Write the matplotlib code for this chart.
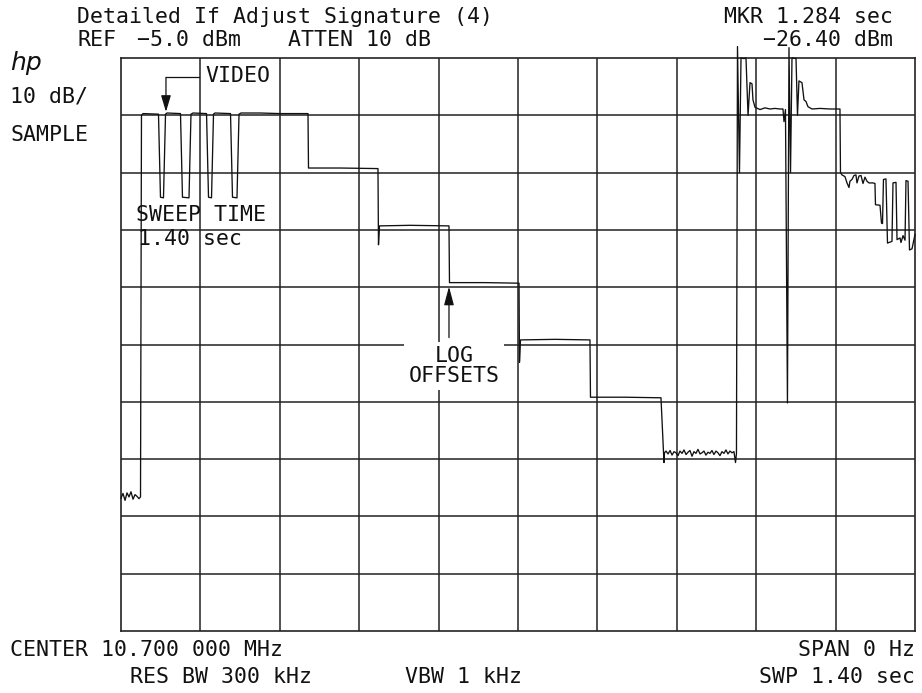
"""Spectrum analyzer plot: IF adjust signature, zero span, 1.40 s sweep."""

import matplotlib

matplotlib.use("Agg")
import matplotlib.pyplot as plt

W, H = 922, 693

SWEEP_S = 1.40
REF_DBM = -5.0
DB_PER_DIV = 10
N_DIV = 10

# trace (time in s, level in dBm)
trace_t = [
    0.0000, 0.0035, 0.0071, 0.0106, 0.0141, 0.0176, 0.0212, 0.0247, 0.0282, 0.0317,
    0.0344, 0.0361, 0.0388,
    0.0661, 0.0696, 0.0749, 0.0785, 0.0811,
    0.1049, 0.1084, 0.1199, 0.1234, 0.1270,
    0.1508, 0.1543, 0.1596, 0.1631, 0.1657,
    0.1931, 0.1966, 0.2045, 0.2081, 0.2116, 0.2451, 0.2804, 0.3297,
    0.3306, 0.3861, 0.4531,
    0.4540, 0.4558, 0.5096, 0.5783,
    0.5792, 0.6418, 0.7018,
    0.7026, 0.7044, 0.7652, 0.8269,
    0.8278, 0.8887, 0.9521,
    0.9574, 0.9583, 0.9610, 0.9646, 0.9681, 0.9716, 0.9751, 0.9786, 0.9821, 0.9856,
    0.9892, 0.9927, 0.9963, 0.9997, 1.0032, 1.0068, 1.0103, 1.0138, 1.0173, 1.0209,
    1.0244, 1.0279, 1.0314, 1.0350, 1.0385, 1.0420, 1.0455, 1.0491, 1.0526, 1.0561,
    1.0596, 1.0632, 1.0667, 1.0702, 1.0737, 1.0773, 1.0808, 1.0835, 1.0852,
    1.0870, 1.0905, 1.0932, 1.0985, 1.1020, 1.1056, 1.1091, 1.1126, 1.1143, 1.1179,
    1.1267, 1.1355, 1.1443, 1.1531, 1.1619, 1.1672, 1.1690, 1.1716,
    1.1751, 1.1778, 1.1805, 1.1831, 1.1902, 1.1928, 1.1954, 1.2007, 1.2043, 1.2078,
    1.2113, 1.2184, 1.2325, 1.2501, 1.2677,
    1.2686, 1.2712, 1.2765, 1.2801, 1.2836, 1.2853, 1.2889, 1.2924, 1.2959, 1.2977,
    1.3012, 1.3048, 1.3083, 1.3118, 1.3153, 1.3188, 1.3259, 1.3294,
    1.3303, 1.3383, 1.3409, 1.3427, 1.3444, 1.3488, 1.3515, 1.3594, 1.3612, 1.3665,
    1.3683, 1.3736, 1.3753, 1.3789, 1.3824, 1.3841, 1.3877, 1.3903, 1.3947, 1.4000,
]
trace_dbm = [
    -81.8, -81.0, -82.2, -80.9, -81.6, -80.7, -82.0, -81.2, -81.5, -81.9,
    -81.6, -15.0, -14.7,
    -14.8, -29.3, -29.4, -14.8, -14.6,
    -14.7, -29.3, -29.4, -14.8, -14.6,
    -14.7, -29.3, -29.4, -14.8, -14.6,
    -14.7, -29.3, -29.4, -14.8, -14.6, -14.6, -14.7, -14.7,
    -24.2, -24.2, -24.3,
    -37.6, -34.3, -34.2, -34.3,
    -44.2, -44.2, -44.3,
    -58.1, -54.2, -54.1, -54.2,
    -64.2, -64.2, -64.3,
    -75.6, -73.9, -73.6, -74.1, -73.5, -74.3, -73.7, -73.9, -74.4, -73.6,
    -74.0, -73.4, -74.2, -73.8, -73.5, -74.5, -73.7, -74.0, -73.3, -74.1,
    -73.9, -73.6, -74.3, -73.8, -74.0, -73.5, -74.2, -73.6, -73.9, -74.4,
    -73.7, -74.0, -73.4, -74.1, -73.6, -73.9, -73.7, -75.6, -74.0,
    -3.0, -25.0, -5.0, -5.1, -5.0, -15.0, -9.3, -9.5, -12.3, -13.6,
    -14.0, -13.7, -13.9, -13.8, -13.9, -13.9, -16.1, -14.0,
    -65.2, -3.2, -25.0, -5.0, -5.1, -15.0, -9.0, -9.3, -12.3, -12.6,
    -13.5, -13.9, -13.8, -13.9, -13.9,
    -25.0, -25.4, -25.7, -26.8, -27.6, -26.5, -26.2, -25.5, -25.4, -26.8,
    -25.6, -25.5, -26.9, -25.8, -26.5, -26.8, -26.8, -26.9,
    -30.6, -30.7, -33.8, -33.9, -26.2, -26.1, -37.3, -37.0, -26.8, -26.7,
    -36.7, -36.4, -37.2, -36.0, -36.8, -26.4, -26.5, -38.5, -38.3, -35.8,
]

# annotation anchors in data units (s, dBm)
video_arrow_t = [0.1375, 0.0793]
video_arrow_dbm = -8.4
video_tip_dbm = -14.4
log_arrow_t = 0.5783
log_arrow_from_dbm = -53.8
log_arrow_tip_dbm = -44.9

INK = "#111111"
GRID = "#222222"
FS = 15.5

plt.rcParams["font.family"] = ["DejaVu Sans Mono", "DejaVu Sans"]


def fxy(x, y):
    """Pixel position in the 922x693 frame -> figure fraction."""
    return x / W, 1 - y / H


fig = plt.figure(figsize=(W / 100, H / 100), dpi=100)
ax = fig.add_axes([121 / W, 1 - 631 / H, 794 / W, 573 / H])
ax.set_xlim(0, SWEEP_S)
ax.set_ylim(REF_DBM - N_DIV * DB_PER_DIV, REF_DBM)
ax.set_xticks([])
ax.set_yticks([])
for s in ax.spines.values():
    s.set_linewidth(1.2)
    s.set_color(GRID)

for i in range(1, N_DIV):
    ax.axvline(i * SWEEP_S / N_DIV, color=GRID, lw=1.1, zorder=1)
    ax.axhline(REF_DBM - i * DB_PER_DIV, color=GRID, lw=1.1, zorder=1)

ax.plot(trace_t, trace_dbm, color=INK, lw=0.95, clip_on=False, zorder=3)

# VIDEO marker arrow
ax.plot(video_arrow_t, [video_arrow_dbm] * 2, color=INK, lw=0.9, zorder=3)
ax.annotate(
    "",
    xy=(video_arrow_t[1], video_tip_dbm),
    xytext=(video_arrow_t[1], video_arrow_dbm),
    arrowprops=dict(arrowstyle="-|>,head_length=0.4,head_width=0.12",
                    mutation_scale=25, color=INK, lw=0.9, shrinkA=0, shrinkB=0),
    zorder=3,
)
# LOG OFFSETS arrow
ax.annotate(
    "",
    xy=(log_arrow_t, log_arrow_tip_dbm),
    xytext=(log_arrow_t, log_arrow_from_dbm),
    arrowprops=dict(arrowstyle="-|>,head_length=0.45,head_width=0.12",
                    mutation_scale=25, color=INK, lw=0.9, shrinkA=0, shrinkB=0),
    zorder=3,
)

txt = dict(color=INK, fontsize=FS)
fig.text(*fxy(77, 17), "Detailed If Adjust Signature (4)", ha="left", va="center", **txt)
fig.text(*fxy(77, 40), "REF", ha="left", va="center", **txt)
fig.text(*fxy(137, 40), "\u22125.0 dBm", ha="left", va="center", **txt)
fig.text(*fxy(288, 40), "ATTEN 10 dB", ha="left", va="center", **txt)
fig.text(*fxy(893, 17), "MKR 1.284 sec", ha="right", va="center", **txt)
fig.text(*fxy(893, 40), "\u221226.40 dBm", ha="right", va="center", **txt)

fig.text(*fxy(10, 63), "hp", ha="left", va="center", color=INK, fontsize=18,
         fontstyle="italic", family="DejaVu Sans")
fig.text(*fxy(10, 97), "10 dB/", ha="left", va="center", **txt)
fig.text(*fxy(10, 135), "SAMPLE", ha="left", va="center", **txt)

fig.text(*fxy(205, 76), "VIDEO", ha="left", va="center", **txt)
fig.text(*fxy(136, 215), "SWEEP TIME", ha="left", va="center", **txt)
fig.text(*fxy(138, 239), "1.40 sec", ha="left", va="center", **txt)

fig.text(*fxy(454, 366), "LOG\nOFFSETS", ha="center", va="center",
         multialignment="center", linespacing=0.95,
         bbox=dict(facecolor="white", edgecolor="none", boxstyle="square,pad=0.2"),
         zorder=4, **txt)

fig.text(*fxy(10, 650), "CENTER 10.700 000 MHz", ha="left", va="center", **txt)
fig.text(*fxy(915, 650), "SPAN 0 Hz", ha="right", va="center", **txt)
fig.text(*fxy(130, 677), "RES BW 300 kHz", ha="left", va="center", **txt)
fig.text(*fxy(405, 677), "VBW 1 kHz", ha="left", va="center", **txt)
fig.text(*fxy(915, 677), "SWP 1.40 sec", ha="right", va="center", **txt)

fig.savefig("out.png", dpi=100)
